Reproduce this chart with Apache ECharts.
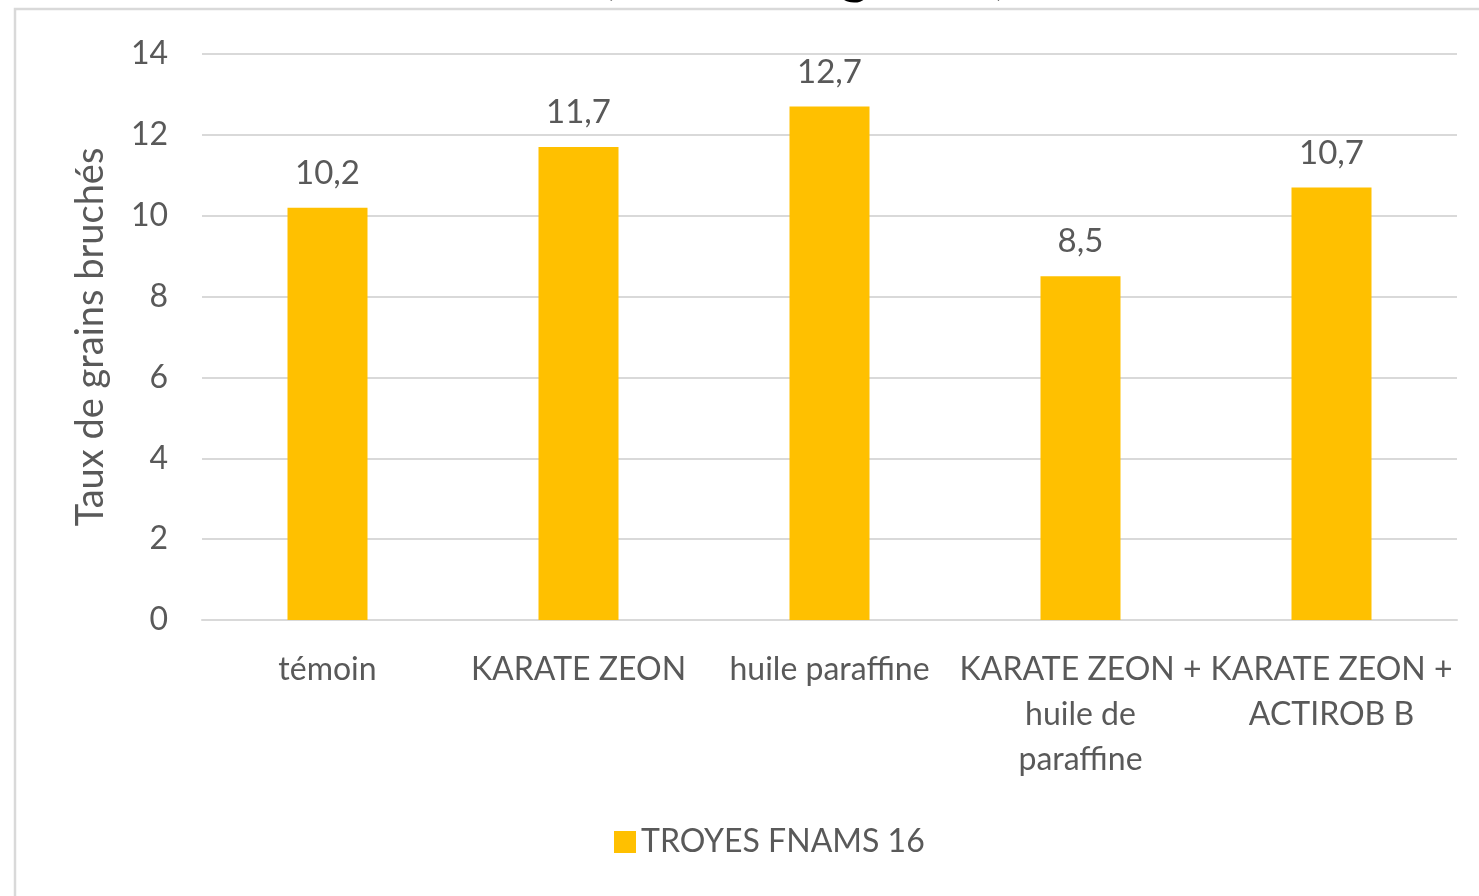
<!DOCTYPE html>
<html>
<head>
<meta charset="utf-8">
<script src="https://cdn.jsdelivr.net/npm/echarts@6/dist/echarts.min.js"></script>
<style>
  html, body { margin: 0; padding: 0; background: #fff; }
  #main { width: 1479px; height: 896px; }
</style>
</head>
<body>
<div id="main"></div>
<script>
var categories = ['témoin', 'KARATE ZEON', 'huile paraffine', 'KARATE ZEON +\nhuile de\nparaffine', 'KARATE ZEON +\nACTIROB B'];
var values = [10.2, 11.7, 12.7, 8.5, 10.7];
var seriesName = 'TROYES FNAMS 16';
var yTicks = [0, 2, 4, 6, 8, 10, 12, 14];

var chartDom = document.getElementById('main');
var myChart = echarts.init(chartDom);
var textColor = '#595959';
var font = 'Lato, "Open Sans", sans-serif';

var option = {
  animation: false,
  textStyle: { fontFamily: font },
  graphic: [
    {
      type: 'text',
      x: 805, y: -57,
      style: {
        text: '(en % de grains)',
        font: '60px ' + font,
        fill: '#000',
        textAlign: 'center'
      }
    },
    {
      type: 'rect',
      shape: { x: 15, y: 9, width: 1500, height: 920 },
      style: { fill: 'none', stroke: '#d9d9d9', lineWidth: 2.5 }
    }
  ],
  legend: {
    bottom: 33,
    left: 609,
    itemWidth: 22,
    itemHeight: 22,
    itemGap: 9,
    icon: 'rect',
    textStyle: { fontSize: 32, color: textColor, fontFamily: font },
    data: [seriesName]
  },
  grid: { left: 202, right: 22, top: 54, bottom: 276 },
  xAxis: {
    type: 'category',
    data: categories,
    axisLine: { lineStyle: { color: '#d9d9d9', width: 2 } },
    axisTick: { show: false },
    axisLabel: { color: textColor, fontSize: 32, lineHeight: 45, margin: 27, interval: 0, fontFamily: font }
  },
  yAxis: {
    type: 'value',
    min: 0, max: 14, interval: 2,
    name: 'Taux de grains bruchés',
    nameLocation: 'middle',
    nameGap: 92,
    nameTextStyle: { color: textColor, fontSize: 38, fontFamily: font },
    axisLine: { show: false },
    axisTick: { show: false },
    axisLabel: {
      color: textColor, fontSize: 32, margin: 34, fontFamily: font,
      formatter: function (v) { return yTicks.indexOf(v) >= 0 ? String(v) : ''; }
    },
    splitLine: { lineStyle: { color: '#d9d9d9', width: 2 } }
  },
  series: [
    {
      name: seriesName,
      type: 'bar',
      data: values,
      barWidth: 80,
      itemStyle: { color: '#FFC000' },
      label: {
        show: true,
        position: 'top',
        distance: 18,
        color: textColor,
        fontSize: 33,
        fontFamily: font,
        formatter: function (p) { return String(p.value).replace('.', ','); }
      }
    }
  ]
};

option && myChart.setOption(option);
</script>
</body>
</html>
